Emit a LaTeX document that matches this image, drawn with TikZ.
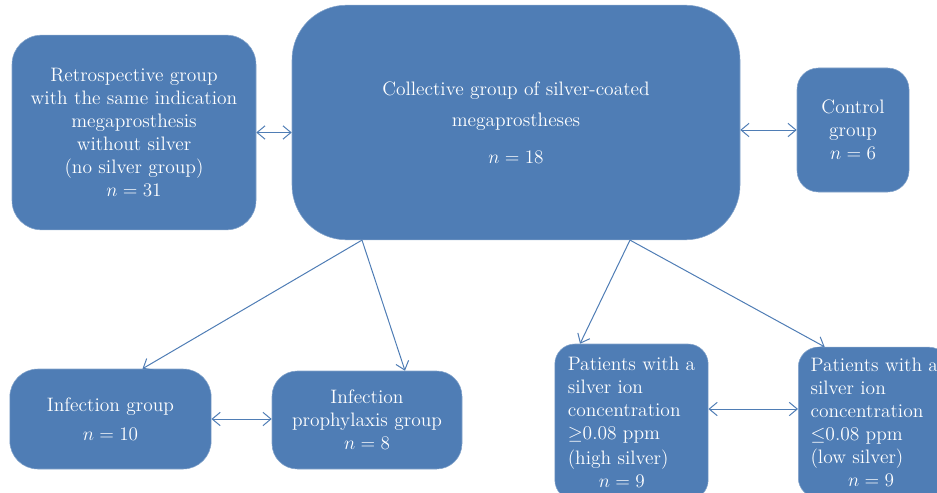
\documentclass[tikz,border=0pt]{standalone}
\usetikzlibrary{positioning,arrows.meta}
\definecolor{boxblue}{HTML}{4F7DB5}

\begin{document}
\begin{tikzpicture}[x=0.75pt, y=-0.75pt,
  g/.style={draw=boxblue!70!white, fill=boxblue, text=white, align=center, inner sep=0pt, font=\fontsize{14.6}{17.3}\selectfont},
  l/.style={draw=boxblue, line width=0.75pt, {Straight Barb[length=6pt,width=10pt]}-{Straight Barb[length=6pt,width=10pt]}},
  a/.style={draw=boxblue, line width=0.75pt, -{Straight Barb[length=6pt,width=10pt]}}]
		\useasboundingbox (0,0) rectangle (937,492);

		\node[g, rounded corners=41pt, minimum width=336pt, minimum height=176pt] (Coll) at (516,122.5)
			{Collective group of silver-coated\\[6pt] megaprostheses\\[10pt] $n = 18$};
		\node[g, rounded corners=22pt, minimum width=183pt, minimum height=146pt] (Retro) at (134,132.5)
			{Retrospective group\\ with the same indication\\ megaprosthesis\\ without silver\\ (no silver group)\\ $n = 31$};
		\node[g, rounded corners=16pt, minimum width=84pt, minimum height=93pt] (Ctrl) at (853,130)
			{Control\\ group\\ $n = 6$};
		\node[g, rounded corners=21pt, minimum width=151pt, minimum height=75pt] (Inf) at (110.5,419)
			{Infection group\\[4pt] $n = 10$};
		\node[g, rounded corners=19pt, minimum width=142.5pt, minimum height=73.5pt] (Pro) at (367,420)
			{Infection\\ prophylaxis group\\ $n = 8$};
		\node[g, align=left, rounded corners=15pt, minimum width=115pt, minimum height=117pt] (High) at (631.5,422)
			{Patients with a\\ silver ion\\ concentration\\ $\geq$0.08 ppm\\[1pt] (high silver)\\ \hspace*{1.6em}$n = 9$};
		\node[g, align=left, rounded corners=15pt, minimum width=113pt, minimum height=113pt, anchor=west] (Low) at (798,422.5)
			{\hspace*{1pt}Patients with a\\ \hspace*{1pt}silver ion\\ \hspace*{1pt}concentration\\ \hspace*{1pt}$\leq$0.08 ppm\\ \hspace*{1pt}(low silver)\\ \hspace*{2.0em}$n = 9$};

		\path[l] (Retro.east) -- (Retro.east -| Coll.west);
		\path[l] (Ctrl.west -| Coll.east) -- (Ctrl.west);
		\path[l] (Inf.east) -- (Inf.east -| Pro.west);
		\path[l] ([yshift=9.75pt]High.east) -- ([yshift=9.75pt]High.east -| Low.west);

		\path[a] ([xshift=-115.5pt]Coll.south) -- ([xshift=24pt]Inf.north);
		\path[a] ([xshift=-115.5pt]Coll.south) -- ([xshift=28.5pt]Pro.north);
		\path[a] ([xshift=85.5pt]Coll.south) -- ([xshift=-38.6pt]High.north);
		\path[a] ([xshift=85.5pt]Coll.south) -- ([xshift=20pt]Low.north west);
	\end{tikzpicture}
\end{document}
